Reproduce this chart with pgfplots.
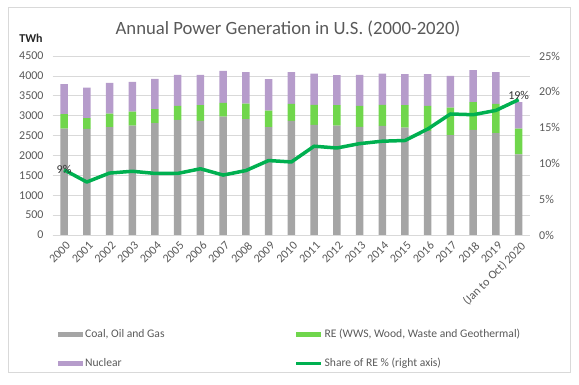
\documentclass[border=0pt]{standalone}
\usepackage{pgfplots}
\pgfplotsset{compat=1.18}
\usepackage{fontspec}
\setmainfont{Carlito}
\definecolor{txt}{HTML}{595959}
\definecolor{gridc}{HTML}{D9D9D9}
\definecolor{coal}{HTML}{A5A5A5}
\definecolor{re}{HTML}{70D64C}
\definecolor{nuc}{HTML}{B69CCB}
\definecolor{share}{HTML}{00B050}
\pgfplotsset{
  barleg/.style={legend image code/.code={\fill[##1] (0bp,-2.5bp) rectangle (25bp,2.5bp);}},
  lineleg/.style={legend image code/.code={\draw[##1] (0bp,0bp) -- (25bp,0bp);}},
}
\begin{document}
\begin{tikzpicture}
\path[use as bounding box] (0bp,0bp) rectangle (579bp,385bp);
\draw[gridc, line width=0.75bp] (8bp,13bp) rectangle (570.5bp,378bp);
\node[txt, font=\fontsize{18.7bp}{22bp}\selectfont] at (288bp,356bp) {Annual Power Generation in U.S. (2000-2020)};
\node[black!85, font=\fontsize{12bp}{14bp}\selectfont\bfseries] at (31bp,347bp) {TWh};
\begin{axis}[
  at={(52.7bp,150bp)}, anchor=south west, scale only axis,
  width=477.3bp, height=179bp,
  xmin=-0.5, xmax=20.5, ymin=0, ymax=4500,
  ytick={0,500,...,4500},
  xtick={0,...,20},
  xticklabels={2000,2001,2002,2003,2004,2005,2006,2007,2008,2009,2010,2011,2012,2013,2014,2015,2016,2017,2018,2019,(Jan to Oct) 2020},
  ybar stacked, bar width=7.5bp,
  axis x line*=bottom, axis y line*=left,
  x axis line style={draw=gridc, line width=0.75bp, -},
  y axis line style={draw=none},
  major tick length=0pt,
  ymajorgrids, grid style={gridc, line width=0.75bp},
  /pgf/number format/assume math mode=true,
  /pgf/number format/set thousands separator={},
  ticklabel style={text=txt, font=\fontsize{12bp}{14bp}\selectfont},
  xticklabel style={rotate=45, anchor=north east, inner sep=2bp, yshift=-3bp, xshift=-1bp},
  yticklabel style={inner sep=2bp, xshift=-7bp},
  legend columns=2,
  legend cell align=left,
  legend style={at={(0.011,-0.525)}, anchor=north west, draw=none, fill=none,
    inner sep=0pt, column sep=0pt, row sep=19bp, text=txt,
    font=\fontsize{11.6bp}{14bp}\selectfont,
    nodes={inner xsep=2bp, inner ysep=0pt},
    /tikz/column 2/.style={column sep=128bp}},
]
\addplot[fill=coal, draw=none, barleg] coordinates {
(0,2675) (1,2667) (2,2710) (3,2750) (4,2810) (5,2893) (6,2868) (7,2977) (8,2911) (9,2710) (10,2868)
(11,2768) (12,2750) (13,2717) (14,2742) (15,2700) (16,2620) (17,2508) (18,2642) (19,2558) (20,2030)};
\addlegendentry{Coal, Oil and Gas}
\addplot[fill=re, draw=none, barleg] coordinates {
(0,362) (1,269) (2,342) (3,352) (4,352) (5,353) (6,395) (7,344) (8,393) (9,418) (10,428)
(11,503) (12,513) (13,529) (14,529) (15,563) (16,626) (17,695) (18,696) (19,738) (20,645)};
\addlegendentry{RE (WWS, Wood, Waste and Geothermal)}
\addplot[fill=nuc, draw=none, barleg] coordinates {
(0,755) (1,770) (2,772) (3,747) (4,763) (5,780) (6,763) (7,805) (8,789) (9,789) (10,797)
(11,788) (12,755) (13,780) (14,788) (15,780) (16,797) (17,798) (18,805) (19,797) (20,663)};
\addlegendentry{Nuclear}
\addlegendimage{share, line width=3bp, lineleg}
\addlegendentry{Share of RE \% (right axis)}
\end{axis}
\begin{axis}[
  at={(52.7bp,150bp)}, anchor=south west, scale only axis,
  width=477.3bp, height=179bp,
  xmin=-0.5, xmax=20.5, ymin=0, ymax=25,
  ytick={0,5,...,25},
  axis x line=none, axis y line*=right,
  y axis line style={draw=none},
  major tick length=0pt,
  /pgf/number format/assume math mode=true,
  yticklabel={\pgfmathprintnumber{\tick}\%},
  yticklabel style={text=txt, font=\fontsize{12bp}{14bp}\selectfont, inner sep=2bp, xshift=7bp},
]
\addplot[share, line width=3.5bp, line join=round, mark=none] coordinates {
(0,9.1) (1,7.4) (2,8.65) (3,8.9) (4,8.6) (5,8.6) (6,9.25) (7,8.37) (8,9.0) (9,10.4) (10,10.2)
(11,12.4) (12,12.15) (13,12.76) (14,13.1) (15,13.2) (16,14.8) (17,16.9) (18,16.8) (19,17.4) (20,18.9)};
\node[black!80, font=\fontsize{12bp}{14bp}\selectfont] at (axis cs:0,9.1) {9\%};
\node[black!80, font=\fontsize{12bp}{14bp}\selectfont, yshift=4bp] at (axis cs:20,18.9) {19\%};
\end{axis}
\end{tikzpicture}
\end{document}
